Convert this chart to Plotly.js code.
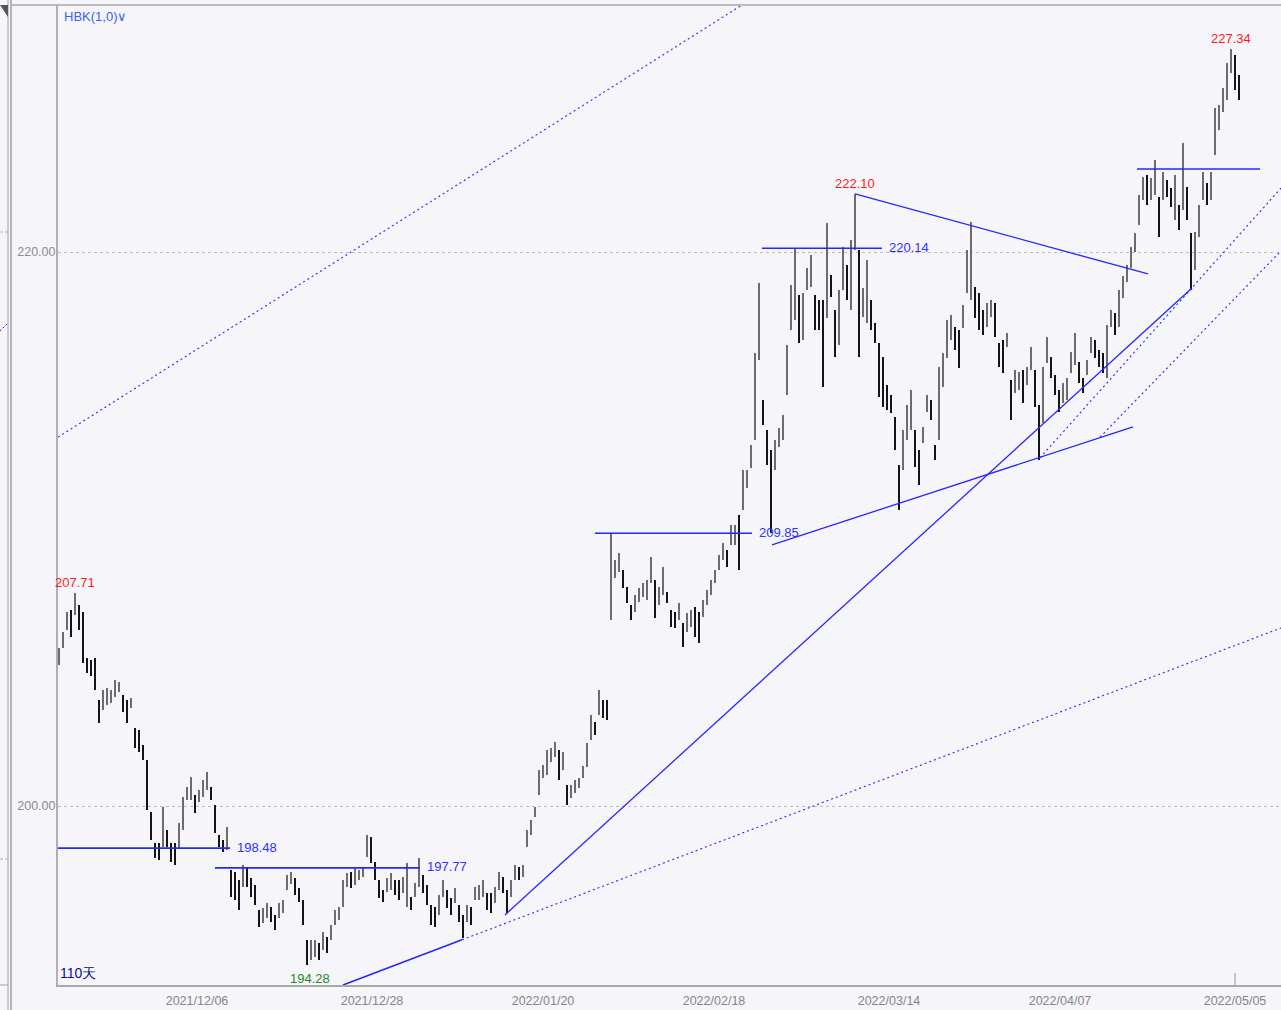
<!DOCTYPE html>
<html>
<head>
<meta charset="utf-8">
<script src="https://cdn.plot.ly/plotly-3.0.1.min.js"></script>
<style>
html,body{margin:0;padding:0;background:#f5f5fa;}
#chart{width:1281px;height:1010px;}
</style>
</head>
<body>
<div id="chart"></div>
<script>
// ---- data ----
const barHigh = [205.71,206.28,207.01,207.08,207.71,207.26,207.01,205.35,205.27,205.35,
203.83,204.19,204.26,204.19,204.55,204.48,204.01,203.83,203.90,202.82,
202.75,202.21,201.66,199.79,198.67,198.67,199.97,199.14,198.67,198.67,
199.39,200.33,200.69,201.05,200.40,200.58,200.94,201.23,200.69,200.04,
198.96,198.78,199.25,197.69,197.62,197.33,197.87,197.77,197.40,197.15,
196.25,196.32,196.50,196.36,196.07,196.50,196.61,197.51,197.62,197.40,
197.04,196.61,195.17,195.17,195.17,195.06,195.45,195.27,195.71,196.25,
196.36,197.33,197.58,197.62,197.77,197.69,197.80,198.96,198.88,197.98,
197.33,196.97,197.40,197.58,197.33,197.33,197.44,197.95,196.72,197.22,
198.13,197.51,197.15,196.43,196.36,196.79,197.33,196.97,196.68,197.04,
196.43,196.07,196.43,196.36,197.08,197.15,197.33,196.86,196.86,197.08,
197.62,197.44,196.97,197.33,197.87,197.80,197.87,199.14,199.50,199.97,
201.30,201.48,202.02,202.10,202.31,202.02,201.95,200.76,200.76,200.94,
201.01,201.45,202.28,203.29,203.04,204.19,203.83,203.83,209.86,208.88,
209.14,208.52,207.91,207.26,207.62,207.87,208.05,208.16,208.99,208.16,
207.91,208.63,207.73,207.08,207.01,207.33,206.61,206.97,207.08,207.19,
207.01,207.44,207.80,208.16,208.52,209.06,209.50,209.24,210.15,210.15,
210.51,212.13,212.13,213.04,216.36,218.88,214.66,213.58,212.86,213.22,
213.65,214.12,216.65,218.81,220.14,218.45,218.52,219.43,219.89,218.45,
218.27,218.27,221.05,219.17,217.91,218.63,220.18,219.53,220.44,222.10,
220.07,218.70,219.71,218.27,217.44,216.72,216.21,215.20,214.84,214.05,
212.31,213.58,214.48,215.02,213.58,212.85,213.69,214.84,214.66,213.04,
215.85,216.36,217.55,217.73,217.30,217.19,218.09,220.07,221.09,218.74,
218.52,217.91,218.16,218.27,218.16,216.72,216.83,217.08,215.38,215.74,
215.67,215.74,215.85,216.57,215.74,214.48,215.85,216.93,216.21,215.56,
215.02,215.27,215.45,216.39,217.08,216.03,215.45,216.10,216.93,216.83,
216.46,216.36,217.37,217.91,217.80,218.63,219.14,219.53,220.18,220.69,
222.06,222.71,222.78,222.67,223.32,221.99,222.89,222.60,222.31,222.78,
221.70,223.94,222.35,220.69,220.72,221.70,222.89,222.49,222.89,225.20,
225.31,225.92,226.83,227.34,227.11,226.39];

const barLow = [205.09,205.71,206.36,206.10,206.90,206.36,205.17,204.80,204.70,204.19,
203.00,203.47,203.65,203.72,203.94,204.12,203.40,203.00,203.54,202.10,
201.95,201.66,199.86,198.78,198.13,198.05,198.52,198.52,197.98,197.87,
198.49,199.14,200.22,200.22,199.75,200.15,200.33,200.58,200.22,199.03,
198.52,198.34,198.41,196.72,196.61,196.25,197.08,197.08,196.72,196.43,
195.64,195.78,195.96,195.82,195.53,195.96,196.14,196.97,197.19,196.79,
196.54,195.71,194.28,194.44,194.55,194.44,194.80,194.70,195.17,195.71,
195.89,196.36,197.08,197.04,197.15,197.33,197.44,198.16,197.95,197.33,
196.68,196.54,196.90,196.97,196.79,196.61,196.86,196.36,196.25,196.72,
197.08,196.86,196.43,195.71,195.64,196.07,196.72,196.32,196.07,196.50,
195.82,195.24,195.82,195.71,196.61,196.61,196.72,196.25,196.14,196.50,
196.97,196.86,196.14,196.72,197.33,197.33,197.44,198.52,198.96,199.61,
200.40,201.01,201.12,201.59,201.77,200.94,201.30,200.04,200.29,200.47,
200.65,201.01,201.41,202.39,202.57,203.29,203.18,203.11,206.72,208.23,
208.45,207.87,207.33,206.72,207.01,207.37,207.55,207.44,208.05,206.79,
207.26,207.62,207.33,206.47,206.43,206.72,205.74,206.28,206.47,206.10,
205.89,206.83,207.26,207.62,208.05,208.52,208.88,208.63,209.43,209.43,
208.52,210.69,211.48,212.21,213.22,216.10,213.76,212.31,209.85,212.13,
212.96,213.22,214.84,217.19,217.55,216.72,216.83,218.63,218.74,217.19,
217.19,215.13,217.62,218.38,216.21,216.65,218.63,218.27,217.91,220.07,
216.21,217.66,217.44,217.19,216.72,214.77,214.41,214.30,214.19,212.85,
210.69,212.13,213.22,213.58,212.24,211.59,213.11,214.23,213.94,212.49,
213.22,215.13,216.18,216.83,216.46,215.82,217.26,218.52,218.27,217.62,
217.19,217.01,217.30,217.66,216.93,215.85,215.63,216.57,213.94,214.91,
215.02,214.55,215.20,215.74,214.41,212.49,213.83,216.00,215.45,214.84,
214.23,214.55,214.66,215.63,215.92,215.27,214.91,215.56,216.36,216.18,
215.85,215.63,215.45,217.30,217.01,217.30,218.34,218.92,219.43,220.00,
220.98,221.88,221.70,221.88,222.06,220.54,221.88,221.99,221.63,221.16,
220.80,221.52,221.16,218.63,219.35,220.54,221.88,221.70,221.88,223.50,
224.41,225.06,225.49,226.46,225.85,225.49];

// date tick labels and the bar slots they sit under
const dateTickPos  = [34.5, 78.25, 121, 163.75, 207.5, 250.25, 294];
const dateTickText = ['2021/12/06','2021/12/28','2022/01/20','2022/02/18','2022/03/14','2022/04/07','2022/05/05'];

// marked extremes (bar index)
const peakIdx = [4, 199, 293];
const troughIdx = [62];

// horizontal support / resistance levels
const levelStart = [-0.25, 39, 134, 175.75, 269.5];
const levelEnd   = [42.75, 90.25, 173.25, 205.75, 300.25];
const levelPrice = [198.48, 197.77, 209.85, 220.14, 223.00];
const levelLabel = [true, true, true, true, false];

// solid trend lines
const trendSolidX0 = [199, 178.25, 111.5, 71];
const trendSolidY0 = [222.10, 209.43, 196.07, 193.54];
const trendSolidX1 = [272.25, 268.5, 283.25, 100.75];
const trendSolidY1 = [219.21, 213.69, 218.70, 195.17];

// dotted trend / channel lines
const trendDotX0 = [100.75, 245.25, 260.25, -0.25];
const trendDotY0 = [195.17, 212.57, 213.32, 213.32];
const trendDotX1 = [305.5, 305.5, 305.5, 170.75];
const trendDotY1 = [206.43, 222.31, 220.04, 228.92];

// ---- build ----
const idx = barHigh.map((_, i) => i);
const span = barHigh.map((h, i) => +(h - barLow[i]).toFixed(2));
const mid = barHigh.map((h, i) => (h + barLow[i]) / 2);
const isUp = mid.map((m, i) => i === 0 ? true : m >= mid[i - 1]);
const barColor = isUp.map(u => u ? '#6c6c6c' : '#141414');
const barWidth = isUp.map(u => u ? 0.6 : 0.32);

const FONT = 'Liberation Sans, Arial, sans-serif';
const BLUE = '#2626ff';

const traces = [];
traces.push({
  type: 'bar', x: idx, y: span, base: barLow,
  width: barWidth, marker: {color: barColor, line: {width: 0}},
  hoverinfo: 'skip', showlegend: false
});

levelStart.forEach((s, k) => {
  traces.push({type: 'scatter', mode: 'lines', x: [s, levelEnd[k]], y: [levelPrice[k], levelPrice[k]],
    line: {color: BLUE, width: 1.6}, hoverinfo: 'skip', showlegend: false});
});
trendSolidX0.forEach((x0, k) => {
  traces.push({type: 'scatter', mode: 'lines', x: [x0, trendSolidX1[k]], y: [trendSolidY0[k], trendSolidY1[k]],
    line: {color: BLUE, width: k === 3 ? 1.6 : 1.3}, hoverinfo: 'skip', showlegend: false});
});
trendDotX0.forEach((x0, k) => {
  traces.push({type: 'scatter', mode: 'lines', x: [x0, trendDotX1[k]], y: [trendDotY0[k], trendDotY1[k]],
    line: {color: BLUE, width: 1.1, dash: '2px,3px'}, hoverinfo: 'skip', showlegend: false});
});

const annotations = [];
levelStart.forEach((s, k) => {
  if (!levelLabel[k]) return;
  annotations.push({x: levelEnd[k], y: levelPrice[k], xref: 'x', yref: 'y', text: levelPrice[k].toFixed(2),
    showarrow: false, xanchor: 'left', yanchor: 'middle', xshift: 5, yshift: 1,
    font: {family: FONT, size: 13, color: '#3030ff'}});
});
peakIdx.forEach(i => {
  annotations.push({x: i, y: barHigh[i], xref: 'x', yref: 'y', text: barHigh[i].toFixed(2),
    showarrow: false, xanchor: 'center', yanchor: 'bottom', yshift: 1,
    font: {family: FONT, size: 13, color: '#ff1a1a'}});
});
troughIdx.forEach(i => {
  annotations.push({x: i + 0.8, y: barLow[i], xref: 'x', yref: 'y', text: barLow[i].toFixed(2),
    showarrow: false, xanchor: 'center', yanchor: 'top', yshift: -4,
    font: {family: FONT, size: 13, color: '#1f8a1f'}});
});
annotations.push({x: 0, y: 0.012, xref: 'paper', yref: 'paper', text: '110天', showarrow: false,
  xanchor: 'left', yanchor: 'middle', font: {family: FONT, size: 14, color: '#10107a'}});
annotations.push({x: 0.003, y: 0.988, xref: 'paper', yref: 'paper', text: 'HBK(1,0)∨', showarrow: false,
  xanchor: 'left', yanchor: 'middle', font: {family: FONT, size: 13, color: '#3f62e6'}});

// pixel helpers for frame decorations outside the plot
const PL = 58, PW = 1223, PT = 5, PH = 980;
const px = v => (v - PL) / PW;
const py = v => (PT + PH - v) / PH;

const shapes = [
  {type: 'line', xref: 'paper', yref: 'paper', x0: px(8), x1: px(8), y0: py(0), y1: py(1010), line: {color: '#a0a0a0', width: 1}},
  {type: 'line', xref: 'paper', yref: 'paper', x0: px(11), x1: px(11), y0: py(0), y1: py(1010), line: {color: '#a0a0a0', width: 1.5}},
  {type: 'line', xref: 'paper', yref: 'paper', x0: px(11), x1: px(1281), y0: py(5), y1: py(5), line: {color: '#a8a8a8', width: 1.5}},
  {type: 'path', xref: 'paper', yref: 'paper', path: `M ${px(0)} ${py(5)} L ${px(8)} ${py(5)} L ${px(8)} ${py(17)} Z`, fillcolor: '#555', line: {width: 0}},
  {type: 'line', xref: 'paper', yref: 'paper', x0: px(0), x1: px(8), y0: py(232), y1: py(232), line: {color: '#b0b0b0', width: 1, dash: '3px,2px'}},
  {type: 'line', xref: 'paper', yref: 'paper', x0: px(0), x1: px(8), y0: py(859), y1: py(859), line: {color: '#b0b0b0', width: 1, dash: '3px,2px'}},
  {type: 'line', xref: 'paper', yref: 'paper', x0: px(0), x1: px(8), y0: py(331), y1: py(323), line: {color: BLUE, width: 1, dash: '2px,2px'}},
  {type: 'line', xref: 'paper', yref: 'paper', x0: px(0), x1: px(8), y0: py(985), y1: py(985), line: {color: '#a0a0a0', width: 1}},
  {type: 'line', xref: 'x', yref: 'paper', x0: dateTickPos[6], x1: dateTickPos[6], y0: 0, y1: py(973), line: {color: '#999', width: 1}}
];

const layout = {
  width: 1281, height: 1010,
  margin: {l: PL, r: 0, t: PT, b: 1010 - PT - PH, pad: 0},
  paper_bgcolor: '#f5f5fa', plot_bgcolor: '#f5f5fa',
  showlegend: false, bargap: 0,
  font: {family: FONT},
  xaxis: {
    range: [-0.25, 305.5], showgrid: false, zeroline: false,
    tickmode: 'array', tickvals: dateTickPos, ticktext: dateTickText, ticks: '',
    tickfont: {family: FONT, size: 12.5, color: '#858585'},
    showline: true, linecolor: '#a8a8a8', linewidth: 2, fixedrange: true, ticklabelstandoff: 3
  },
  yaxis: {
    range: [193.54, 228.92], zeroline: false,
    tickmode: 'array', tickvals: [200, 220], ticktext: ['200.00', '220.00'], ticks: '',
    tickfont: {family: FONT, size: 12.5, color: '#8c8c8c'},
    showgrid: true, gridcolor: '#bdbdbd', gridwidth: 1, griddash: '3px,3px',
    showline: true, linecolor: '#b0b0b0', linewidth: 2, fixedrange: true, ticklabelstandoff: -2
  },
  shapes: shapes,
  annotations: annotations
};

Plotly.newPlot('chart', traces, layout, {displayModeBar: false, staticPlot: true});
</script>
</body>
</html>
